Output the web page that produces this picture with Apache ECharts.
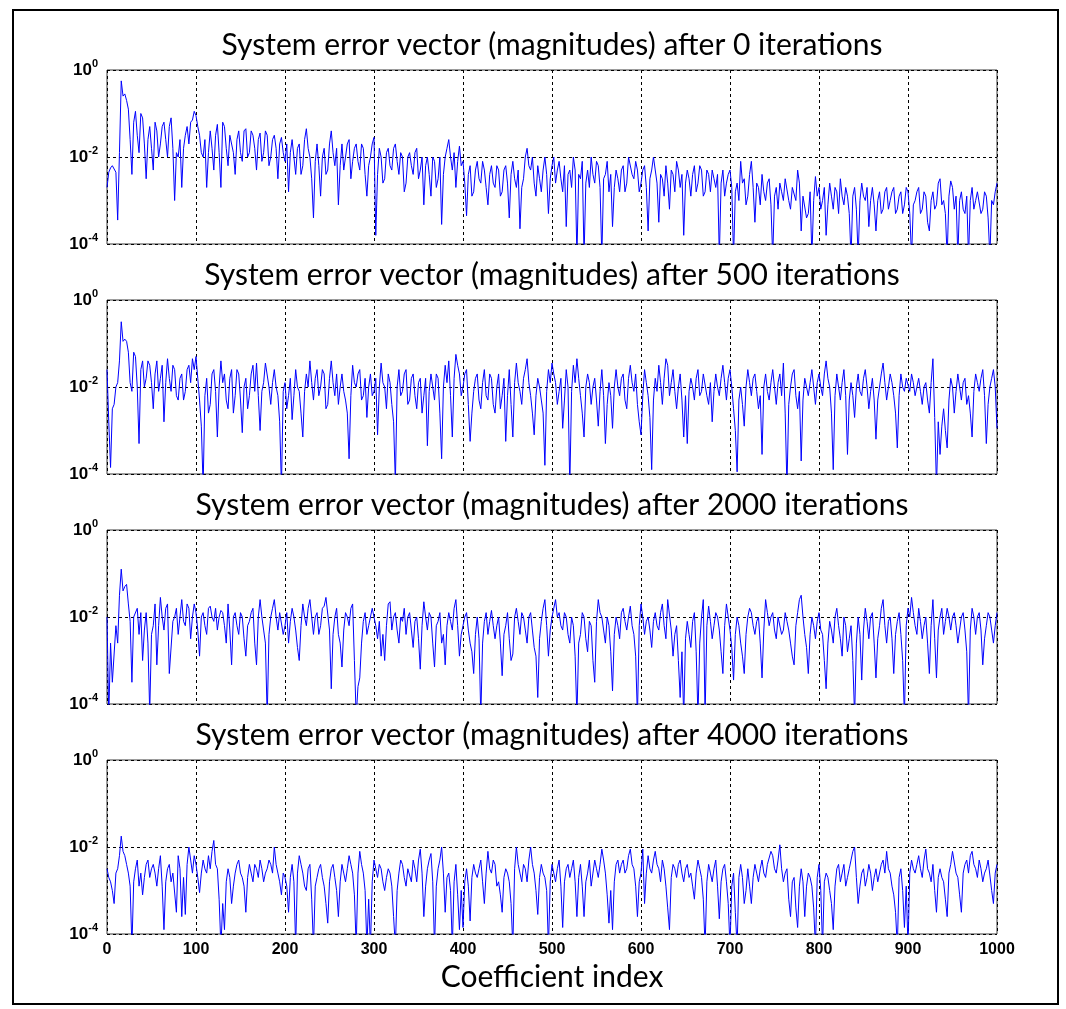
<!DOCTYPE html>
<html>
<head>
<meta charset="utf-8">
<script src="https://cdn.jsdelivr.net/npm/echarts@6/dist/echarts.min.js"></script>
<style>
html,body{margin:0;padding:0;background:#fff;}
#chart{width:1066px;height:1009px;}
</style>
</head>
<body>
<div id="chart"></div>
<script>
// Coefficient index sampled every 2 coefficients (0..1000)
const STEP = 2;
const panelTitles = [
  'System error vector (magnitudes) after 0 iterations',
  'System error vector (magnitudes) after 500 iterations',
  'System error vector (magnitudes) after 2000 iterations',
  'System error vector (magnitudes) after 4000 iterations'
];
const xTickLabels = ['0','100','200','300','400','500','600','700','800','900','1000'];
const yTickExponents = [0, -2, -4];
const xAxisName = 'Coefficient index';

const err0Log = [
-2.7,-2.35,-2.25,-2.2,-2.2,-2.35,-3.45,-1.9,-0.25,-0.6,-0.55,-0.7,-0.9,-1.6,-2.4,-1.2,-0.95,-1.5,-1.9,-1.0,-1.1,-1.7,-2.5,-1.6,-1.3,-1.8,-2.3,-1.2,-1.4,-2.0,-1.7,-1.3,-1.2,-1.6,-2.0,-1.3,-1.1,-1.8,-3.0,-1.9,-2.0,-1.6,-2.7,-1.8,-1.5,-1.3,-1.7,-1.2,-1.15,-0.95,
-1.05,-1.3,-1.5,-1.9,-2.0,-1.6,-2.7,-1.9,-1.4,-1.8,-2.3,-1.5,-1.25,-1.9,-2.7,-1.2,-1.3,-1.8,-2.2,-1.5,-1.5,-1.9,-2.4,-1.6,-1.4,-1.9,-2.1,-1.4,-1.35,-2.0,-1.9,-1.4,-1.5,-1.8,-2.3,-1.6,-1.45,-2.1,-1.9,-1.4,-1.5,-2.2,-2.0,-1.6,-1.5,-1.8,-2.5,-1.7,-1.55,-1.9,
-2.1,-1.7,-2.8,-1.9,-1.6,-2.0,-2.4,-1.8,-1.7,-2.4,-2.2,-1.6,-1.35,-1.8,-2.0,-2.5,-3.4,-2.1,-1.7,-2.2,-2.9,-2.0,-1.8,-2.4,-2.3,-1.7,-1.4,-1.9,-2.2,-1.8,-3.1,-2.2,-1.7,-2.3,-2.0,-1.7,-1.6,-2.5,-2.1,-1.8,-1.7,-2.1,-2.3,-1.7,-1.8,-2.4,-2.9,-2.2,-2.0,-1.7,
-1.55,-3.8,-2.4,-1.8,-2.0,-2.6,-2.5,-1.9,-1.8,-2.2,-2.3,-1.8,-1.7,-2.1,-2.4,-1.9,-2.0,-2.8,-2.6,-2.0,-1.9,-2.2,-2.4,-1.9,-1.8,-2.5,-2.3,-2.0,-3.1,-2.2,-2.0,-2.4,-2.9,-2.0,-2.1,-2.7,-2.5,-2.0,-3.55,-2.4,-2.0,-1.8,-1.6,-2.0,-2.3,-1.9,-2.7,-2.1,-1.75,-2.2,
-2.1,-2.6,-3.35,-2.4,-2.2,-2.9,-2.8,-2.3,-2.1,-2.5,-2.6,-2.1,-2.3,-2.7,-3.1,-2.4,-2.2,-2.6,-2.7,-2.2,-2.3,-2.9,-2.8,-2.3,-2.2,-2.6,-3.4,-2.4,-2.1,-2.5,-2.7,-2.3,-3.65,-2.7,-2.5,-2.0,-1.8,-2.2,-2.3,-2.0,-2.6,-2.9,-2.2,-2.5,-2.8,-2.3,-2.0,-2.4,-3.3,-2.5,
-2.2,-2.0,-2.6,-2.3,-2.1,-2.5,-2.8,-2.2,-3.6,-2.4,-2.3,-2.7,-2.0,-2.3,-4.3,-2.4,-2.5,-2.1,-4.3,-2.6,-2.3,-2.7,-2.0,-2.4,-2.6,-2.1,-2.2,-2.7,-4.3,-2.5,-2.4,-2.1,-2.8,-2.4,-3.6,-2.7,-2.3,-2.5,-2.8,-2.3,-2.2,-2.8,-2.6,-2.0,-2.0,-2.4,-2.5,-2.1,-2.3,-2.8,
-2.6,-2.3,-2.2,-2.7,-3.7,-2.5,-2.3,-2.0,-2.0,-2.6,-3.5,-2.4,-2.5,-2.9,-2.2,-2.6,-3.2,-2.3,-2.4,-2.8,-2.1,-2.3,-2.7,-2.4,-3.8,-2.6,-2.3,-2.5,-2.9,-2.4,-2.2,-2.8,-2.6,-2.2,-2.3,-2.9,-2.8,-2.3,-2.4,-2.8,-2.3,-2.5,-2.7,-2.4,-4.3,-2.6,-2.3,-2.9,-2.6,-2.4,
-2.3,-2.7,-4.3,-2.8,-2.6,-3.0,-2.1,-2.6,-2.5,-3.1,-2.9,-2.4,-2.1,-2.7,-3.5,-2.6,-2.7,-3.1,-2.4,-2.8,-3.0,-2.6,-2.5,-3.1,-4.3,-2.9,-2.7,-3.2,-2.6,-2.8,-3.0,-2.5,-2.5,-3.0,-3.2,-2.7,-2.7,-3.0,-2.3,-2.6,-3.7,-2.9,-2.9,-3.4,-3.3,-2.8,-4.3,-3.0,-2.45,-2.9,
-2.7,-3.2,-3.0,-2.7,-3.8,-3.1,-2.6,-2.9,-3.2,-2.7,-2.8,-3.3,-2.5,-2.9,-3.1,-2.7,-2.9,-3.3,-4.3,-2.9,-2.7,-3.2,-4.3,-3.0,-2.6,-2.9,-3.0,-2.7,-3.6,-3.0,-2.7,-3.1,-3.7,-3.0,-2.8,-3.3,-3.2,-2.8,-2.7,-3.2,-3.0,-2.8,-2.7,-3.3,-3.2,-2.9,-2.8,-3.3,-3.1,-2.7,
-2.8,-3.3,-4.3,-3.1,-3.0,-2.8,-2.7,-3.3,-3.2,-2.8,-2.9,-3.5,-3.7,-3.0,-2.8,-3.2,-3.1,-2.6,-2.5,-3.1,-3.0,-3.3,-4.3,-2.9,-2.55,-2.7,-3.2,-2.9,-4.3,-3.0,-2.8,-3.2,-3.3,-2.9,-4.3,-3.0,-2.7,-3.2,-3.0,-2.8,-2.8,-3.3,-3.2,-2.8,-2.9,-3.4,-4.3,-3.0,-3.1,-2.8,
-2.6
];
const err500Log = [
-1.6,-2.8,-3.85,-2.5,-2.4,-2.0,-1.9,-1.4,-0.5,-0.95,-0.9,-0.95,-1.2,-1.9,-2.1,-1.2,-1.3,-2.0,-3.3,-1.6,-1.4,-2.0,-1.8,-1.4,-1.5,-1.9,-2.5,-1.7,-1.4,-2.1,-1.8,-1.5,-2.8,-1.9,-1.35,-1.8,-2.1,-1.5,-1.6,-2.2,-2.3,-1.8,-1.7,-2.3,-2.1,-1.6,-1.5,-1.9,-1.35,-1.6,
-1.3,-1.8,-2.3,-2.9,-4.3,-2.2,-1.8,-2.6,-2.4,-1.7,-1.6,-2.1,-3.15,-2.0,-1.4,-1.9,-1.7,-2.3,-2.5,-1.8,-1.6,-2.6,-2.2,-1.6,-1.7,-2.3,-3.05,-2.0,-1.8,-2.5,-2.2,-1.7,-1.5,-2.1,-1.45,-2.2,-3.0,-2.1,-1.9,-1.45,-1.45,-2.0,-2.4,-1.9,-1.6,-2.0,-2.2,-2.8,-4.3,-2.1,
-1.9,-2.5,-2.2,-1.8,-2.75,-2.2,-1.6,-2.0,-2.1,-2.6,-3.15,-2.1,-1.7,-2.0,-1.4,-1.9,-2.3,-1.8,-1.6,-2.2,-2.0,-1.6,-1.7,-2.5,-2.4,-1.8,-1.4,-1.9,-2.2,-1.7,-2.4,-2.0,-1.7,-2.1,-2.3,-2.6,-3.65,-2.2,-1.5,-1.9,-2.0,-1.7,-1.6,-2.3,-2.2,-1.8,-2.7,-2.0,-1.7,-2.2,
-2.1,-1.8,-3.1,-2.0,-1.45,-1.9,-2.0,-2.5,-1.7,-1.9,-2.4,-2.8,-4.2,-2.0,-1.6,-2.2,-2.1,-1.7,-1.6,-2.4,-2.3,-1.8,-1.7,-2.2,-2.5,-1.9,-1.8,-2.6,-2.2,-1.8,-3.35,-2.1,-1.7,-2.0,-2.3,-1.7,-1.8,-2.6,-3.65,-2.0,-1.5,-1.9,-1.4,-2.2,-3.15,-1.8,-1.25,-1.5,-1.7,-2.2,
-2.0,-1.7,-1.6,-2.4,-3.25,-2.6,-2.1,-1.8,-1.7,-2.3,-2.5,-1.9,-1.6,-2.2,-2.3,-1.7,-1.8,-2.4,-2.6,-2.0,-1.7,-2.5,-2.2,-1.8,-3.25,-2.2,-1.6,-2.4,-3.15,-1.9,-1.45,-1.9,-2.1,-2.4,-1.8,-1.6,-1.35,-1.9,-2.2,-2.6,-3.1,-2.2,-1.8,-2.0,-2.3,-2.6,-3.8,-2.1,-1.6,-1.9,
-1.45,-1.7,-1.9,-2.4,-2.1,-1.8,-2.95,-2.3,-1.6,-2.0,-4.3,-2.1,-1.5,-1.9,-1.35,-1.8,-2.2,-2.6,-3.15,-2.0,-1.7,-1.9,-2.4,-2.0,-1.8,-2.3,-2.9,-2.1,-1.6,-2.2,-3.3,-2.4,-1.9,-2.2,-2.95,-2.0,-1.6,-2.0,-2.2,-1.8,-1.7,-2.3,-2.5,-1.8,-1.5,-1.9,-2.1,-1.7,-2.4,-2.8,
-3.1,-2.2,-1.6,-1.9,-2.2,-2.7,-3.9,-2.3,-1.8,-2.1,-1.5,-1.9,-2.4,-1.8,-1.35,-1.5,-2.2,-1.9,-1.6,-2.1,-2.5,-2.0,-1.7,-2.3,-3.15,-2.2,-3.3,-2.1,-1.8,-2.0,-2.3,-1.8,-1.6,-2.2,-2.1,-1.7,-1.7,-2.2,-2.4,-1.9,-2.8,-2.1,-1.7,-2.0,-2.2,-1.8,-1.5,-1.9,-2.3,-1.8,
-1.6,-2.0,-2.5,-3.0,-3.95,-2.3,-2.0,-2.4,-2.9,-2.0,-1.6,-1.9,-2.2,-1.8,-1.7,-2.1,-2.5,-2.2,-3.55,-2.0,-1.7,-2.1,-2.3,-1.9,-1.6,-2.0,-2.4,-1.9,-1.7,-2.2,-1.45,-2.6,-4.3,-2.4,-2.0,-1.7,-1.6,-2.2,-2.5,-2.1,-3.7,-2.3,-1.8,-2.0,-2.2,-1.9,-1.6,-2.0,-2.4,-1.9,
-1.7,-2.0,-2.2,-1.7,-1.4,-1.8,-2.0,-2.6,-3.9,-2.2,-1.7,-2.0,-2.3,-1.9,-1.6,-2.2,-3.55,-2.3,-1.9,-2.2,-2.7,-2.0,-1.7,-2.1,-2.2,-1.8,-1.6,-2.0,-2.5,-2.1,-1.8,-2.3,-3.2,-2.3,-2.0,-1.7,-1.45,-1.9,-2.3,-2.0,-1.7,-1.9,-2.2,-2.6,-3.4,-2.2,-1.7,-2.0,-2.1,-1.8,
-1.8,-2.1,-1.7,-1.9,-2.2,-2.0,-1.8,-2.1,-2.4,-2.0,-1.9,-2.3,-2.6,-1.9,-1.35,-2.7,-4.3,-2.8,-3.55,-2.9,-2.5,-3.0,-3.4,-2.3,-1.8,-2.0,-2.6,-2.1,-1.7,-2.0,-2.3,-1.9,-1.8,-2.4,-2.2,-2.6,-3.15,-2.1,-1.7,-1.9,-2.1,-1.8,-1.6,-2.2,-3.3,-2.4,-2.0,-1.8,-1.6,-2.0,
-2.95
];
const err2000Log = [
-2.0,-4.3,-2.6,-3.5,-3.5,-2.2,-2.6,-1.5,-0.9,-1.4,-1.3,-1.25,-1.7,-2.1,-3.5,-2.0,-2.0,-1.8,-2.4,-1.9,-3.0,-2.3,-1.9,-2.6,-4.2,-2.4,-2.2,-1.7,-3.1,-2.2,-1.55,-2.0,-2.3,-1.8,-1.7,-3.3,-3.3,-2.1,-2.0,-1.8,-2.4,-2.0,-1.6,-2.1,-2.2,-1.7,-1.8,-2.5,-2.0,-1.7,
-1.9,-2.3,-2.9,-2.0,-1.9,-2.2,-2.4,-1.8,-1.75,-2.0,-2.1,-1.8,-2.3,-2.0,-1.85,-1.9,-2.2,-2.6,-1.7,-2.3,-3.1,-2.0,-1.9,-2.2,-2.4,-1.9,-2.0,-2.5,-2.9,-2.2,-2.1,-1.9,-1.8,-2.6,-3.1,-2.0,-1.6,-2.0,-2.3,-2.6,-4.3,-2.4,-2.0,-1.8,-1.6,-2.0,-2.3,-1.9,-1.9,-2.4,
-2.2,-1.9,-2.6,-2.1,-1.8,-2.0,-2.3,-2.7,-3.0,-2.2,-1.7,-2.0,-2.2,-1.8,-1.6,-2.0,-2.4,-2.0,-1.9,-2.4,-2.2,-1.8,-1.75,-1.55,-1.55,-2.3,-3.65,-2.4,-2.0,-1.8,-2.4,-2.6,-3.15,-2.3,-1.9,-2.0,-2.2,-1.8,-1.7,-3.0,-4.3,-3.6,-3.4,-2.6,-2.1,-1.9,-2.4,-2.2,-2.0,-1.8,
-1.8,-2.2,-2.5,-2.1,-2.9,-2.4,-3.0,-2.2,-1.7,-1.65,-2.3,-2.0,-1.9,-2.3,-2.6,-2.0,-2.1,-1.8,-2.4,-2.0,-1.9,-2.3,-2.7,-2.1,-2.0,-2.5,-3.2,-2.2,-1.65,-2.0,-2.3,-1.9,-2.0,-2.6,-3.15,-2.2,-2.1,-1.9,-2.6,-2.4,-3.1,-2.2,-1.9,-2.1,-2.3,-1.8,-1.6,-2.2,-2.9,-2.4,
-2.2,-2.0,-1.9,-2.3,-2.6,-2.8,-3.3,-2.4,-2.0,-2.5,-4.3,-2.6,-2.1,-1.9,-2.4,-2.1,-1.85,-2.2,-2.5,-2.2,-2.0,-2.6,-3.35,-2.4,-2.2,-1.9,-2.5,-3.0,-2.85,-2.0,-1.8,-2.1,-2.4,-1.9,-2.0,-2.3,-2.6,-2.0,-1.9,-2.3,-2.7,-2.9,-3.85,-2.5,-2.1,-1.8,-1.6,-2.2,-2.9,-2.3,
-2.0,-1.8,-1.6,-2.0,-1.9,-2.2,-2.3,-1.9,-2.0,-2.4,-2.6,-2.0,-2.2,-2.9,-4.3,-2.6,-2.4,-1.9,-2.0,-2.5,-2.8,-2.1,-2.2,-3.0,-3.5,-2.1,-1.6,-1.9,-2.0,-2.3,-2.6,-2.0,-2.2,-2.8,-3.7,-2.4,-2.0,-2.2,-2.5,-1.9,-1.8,-2.1,-2.3,-2.0,-1.75,-2.2,-2.4,-2.9,-4.3,-2.2,
-1.7,-2.0,-2.4,-2.1,-2.0,-2.3,-2.7,-2.1,-1.9,-2.2,-2.3,-1.9,-1.7,-2.2,-2.5,-1.6,-1.6,-2.3,-2.9,-2.4,-2.2,-3.0,-3.85,-2.8,-4.3,-2.5,-2.1,-2.4,-2.7,-2.1,-1.9,-2.8,-4.3,-2.6,-2.0,-1.6,-4.3,-2.2,-1.75,-2.1,-2.5,-2.2,-1.9,-2.0,-2.3,-2.8,-3.3,-2.2,-1.7,-2.0,
-2.3,-2.7,-3.45,-2.4,-2.0,-2.2,-2.6,-2.9,-3.3,-2.4,-2.0,-1.8,-1.9,-2.2,-2.4,-2.1,-2.0,-2.6,-3.4,-2.3,-1.6,-1.9,-2.2,-2.0,-1.9,-2.3,-2.5,-2.0,-2.0,-2.4,-2.3,-1.9,-2.1,-2.3,-2.6,-2.9,-3.1,-2.2,-1.9,-1.6,-1.5,-2.0,-2.4,-2.7,-3.3,-2.4,-2.0,-2.2,-2.5,-2.1,
-1.9,-2.3,-2.4,-3.0,-3.65,-2.6,-2.1,-2.3,-2.6,-2.0,-1.8,-2.2,-2.5,-2.9,-2.0,-2.2,-2.8,-2.5,-2.2,-3.0,-4.3,-2.6,-2.0,-2.4,-3.45,-2.3,-1.8,-2.1,-2.5,-2.0,-1.9,-2.6,-3.4,-2.5,-2.2,-1.8,-1.6,-2.2,-2.6,-2.1,-2.0,-2.5,-3.3,-2.4,-2.1,-1.9,-2.4,-3.0,-4.3,-2.2,
-1.8,-2.0,-1.55,-1.9,-2.2,-2.4,-1.8,-2.1,-2.5,-2.2,-2.0,-2.6,-3.3,-2.2,-1.6,-2.5,-3.4,-2.3,-2.0,-1.8,-2.4,-2.1,-1.8,-2.0,-2.3,-2.0,-1.9,-2.2,-2.6,-2.3,-2.0,-1.9,-2.3,-2.8,-4.3,-2.3,-1.8,-2.0,-2.4,-2.0,-1.9,-2.3,-3.1,-2.5,-2.2,-1.9,-2.0,-2.3,-2.6,-2.2,
-1.9
];
const err4000Log = [
-2.5,-2.7,-2.8,-3.0,-3.3,-2.6,-2.5,-2.2,-1.75,-2.1,-2.2,-2.4,-2.6,-2.9,-4.3,-2.8,-2.5,-2.3,-2.9,-2.6,-3.1,-2.7,-2.4,-2.3,-2.7,-2.5,-2.4,-2.6,-2.9,-2.5,-2.2,-2.9,-3.9,-2.8,-2.5,-2.4,-2.8,-2.6,-2.6,-3.5,-2.2,-2.5,-3.6,-2.7,-3.55,-2.4,-2.0,-2.3,-2.6,-2.2,
-2.4,-2.7,-3.05,-2.6,-2.3,-2.5,-2.6,-2.2,-2.5,-2.1,-1.85,-2.4,-2.5,-3.2,-4.3,-3.3,-3.9,-2.8,-2.5,-2.7,-3.3,-2.9,-2.6,-2.4,-2.3,-2.6,-2.7,-2.9,-3.5,-2.7,-2.4,-2.6,-2.8,-2.4,-2.5,-2.7,-2.3,-2.5,-2.8,-2.6,-2.5,-2.3,-2.4,-2.6,-2.0,-2.4,-2.6,-2.8,-3.1,-2.6,
-2.7,-2.9,-3.5,-2.7,-2.4,-2.8,-4.3,-2.6,-2.2,-2.4,-2.6,-2.9,-3.0,-2.5,-2.4,-3.2,-4.3,-2.9,-2.7,-2.5,-2.4,-2.7,-2.9,-3.3,-3.75,-2.8,-2.5,-2.4,-2.7,-3.0,-3.6,-2.8,-2.4,-2.6,-2.8,-2.5,-2.2,-2.4,-2.6,-3.1,-4.3,-2.6,-2.1,-2.4,-2.6,-3.0,-4.3,-3.2,-4.3,-2.8,
-2.3,-2.5,-2.7,-2.4,-2.5,-2.8,-3.0,-2.7,-2.5,-2.6,-2.9,-3.6,-4.3,-3.0,-2.6,-2.3,-2.4,-2.7,-2.9,-2.5,-2.5,-2.8,-2.3,-2.5,-2.8,-2.3,-2.05,-2.6,-3.6,-2.9,-2.5,-2.3,-2.15,-2.8,-4.3,-2.9,-2.5,-2.3,-2.0,-2.6,-3.5,-2.7,-2.6,-3.0,-4.3,-2.8,-2.4,-3.1,-3.9,-3.0,
-3.85,-2.8,-2.5,-2.9,-3.7,-2.7,-2.4,-2.6,-2.7,-2.5,-2.3,-2.8,-3.3,-2.6,-2.1,-2.5,-2.6,-2.3,-2.4,-2.9,-2.8,-3.1,-3.5,-2.7,-2.5,-2.6,-2.8,-3.3,-4.3,-2.5,-2.0,-2.4,-2.6,-2.8,-2.4,-2.5,-2.8,-2.3,-2.0,-2.4,-2.6,-3.0,-3.55,-2.7,-2.4,-2.6,-2.7,-3.0,-4.3,-2.8,
-2.4,-2.6,-2.8,-2.5,-2.3,-2.9,-3.85,-2.8,-2.5,-2.4,-2.7,-2.5,-2.3,-2.8,-3.6,-2.7,-2.4,-2.9,-3.6,-2.8,-2.6,-2.3,-2.9,-2.6,-2.3,-2.5,-2.7,-2.4,-2.05,-2.3,-2.6,-3.1,-3.75,-3.0,-3.9,-2.8,-2.4,-2.3,-2.6,-2.4,-2.3,-2.6,-2.5,-2.2,-2.05,-2.4,-2.5,-2.9,-3.6,-2.8,
-2.6,-2.05,-3.3,-2.6,-2.2,-2.5,-2.6,-2.3,-2.1,-2.4,-2.5,-2.8,-2.3,-2.5,-2.9,-3.4,-3.9,-2.7,-2.4,-2.5,-2.7,-2.4,-2.3,-2.6,-2.8,-2.5,-2.4,-2.7,-2.6,-2.9,-3.2,-2.6,-2.3,-2.5,-2.7,-3.2,-4.3,-2.8,-2.4,-2.6,-2.8,-2.5,-2.3,-2.9,-3.65,-2.8,-2.5,-2.4,-2.8,-3.3,
-4.3,-2.9,-2.6,-3.5,-4.3,-2.7,-2.4,-2.7,-3.3,-3.0,-2.5,-2.9,-3.3,-2.7,-2.4,-2.6,-2.8,-2.5,-2.3,-2.6,-2.7,-2.4,-2.4,-2.1,-2.2,-2.5,-2.6,-2.3,-1.95,-2.5,-2.8,-2.6,-2.5,-3.2,-3.6,-2.8,-2.7,-3.4,-3.85,-2.9,-2.5,-2.8,-3.6,-2.9,-2.6,-2.7,-2.9,-3.4,-4.3,-2.7,
-2.4,-3.0,-4.3,-2.8,-2.6,-2.7,-3.0,-3.3,-3.9,-2.9,-2.5,-2.4,-2.8,-2.6,-2.4,-2.9,-2.7,-2.5,-2.3,-2.1,-2.0,-2.7,-3.3,-2.9,-2.6,-2.5,-2.9,-2.7,-2.4,-2.6,-3.0,-2.7,-2.5,-2.8,-2.8,-2.4,-2.3,-2.6,-2.1,-2.5,-2.6,-2.9,-3.1,-3.5,-4.3,-2.7,-2.5,-3.0,-3.85,-2.9,
-4.3,-2.6,-2.3,-2.5,-2.6,-2.4,-2.2,-2.5,-2.7,-2.3,-2.05,-2.5,-2.6,-2.8,-2.4,-3.0,-3.5,-2.7,-2.5,-2.7,-2.8,-3.2,-3.6,-2.6,-2.4,-2.1,-2.1,-2.6,-2.7,-3.1,-3.5,-2.6,-2.4,-2.3,-2.6,-2.2,-2.1,-2.4,-2.5,-2.7,-2.3,-2.5,-2.8,-2.6,-2.5,-2.3,-2.3,-3.0,-3.3,-2.6,
-2.4
];
const panelsLog = [err0Log, err500Log, err2000Log, err4000Log];

// ---- layout ----
const GRID_LEFT = 107, GRID_RIGHT = 69, GRID_H = 174;
const gridTops = [70, 300, 530, 760];
const titleFont = 'Lato, "Open Sans", sans-serif';
const tickFont = '"Liberation Sans", Arial, sans-serif';

const grids = [], xAxes = [], yAxes = [], series = [], graphics = [];
panelsLog.forEach((arr, k) => {
  grids.push({left: GRID_LEFT, right: GRID_RIGHT, top: gridTops[k], height: GRID_H,
    show: true, borderColor: '#3a3a3a', borderWidth: 1, backgroundColor: '#fff', containLabel: false});
  xAxes.push({
    type: 'value', gridIndex: k, min: 0, max: 1000, interval: 100,
    axisLine: {show: false}, axisTick: {show: false},
    axisLabel: {show: k === 3, color: '#000', fontFamily: tickFont, fontSize: 16, fontWeight: 'bold', margin: 8,
      formatter: v => xTickLabels[Math.round(v / 100)]},
    splitLine: {show: true, lineStyle: {color: '#000', width: 1, type: [3, 3]}},
    name: k === 3 ? xAxisName : '', nameLocation: 'middle', nameGap: 28,
    nameTextStyle: {color: '#000', fontFamily: titleFont, fontSize: 30}
  });
  yAxes.push({
    type: 'log', gridIndex: k, logBase: 100, min: 1e-4, max: 1,
    axisLine: {show: false}, axisTick: {show: false},
    axisLabel: {color: '#000', margin: 9,
      formatter: v => {
        const e = Math.round(Math.log10(v));
        return yTickExponents.indexOf(e) >= 0 ? '{b|10}{s|' + e + '}' : '';
      },
      rich: {
        b: {fontFamily: tickFont, fontSize: 17, fontWeight: 'bold', color: '#000'},
        s: {fontFamily: tickFont, fontSize: 11, fontWeight: 'bold', color: '#000', padding: [0, 0, 13, 0]}
      }
    },
    splitLine: {show: true, lineStyle: {color: '#000', width: 1, type: [3, 3]}},
    minorTick: {show: false}, minorSplitLine: {show: false}
  });
  series.push({
    type: 'line', xAxisIndex: k, yAxisIndex: k, showSymbol: false, symbol: 'none',
    clip: true, silent: true,
    lineStyle: {color: '#0000ff', width: 1},
    data: arr.map((lv, i) => [i * STEP, Math.pow(10, lv)])
  });
  graphics.push({type: 'text', x: 552, y: gridTops[k] - 25,
    style: {text: panelTitles[k], fill: '#000', font: '30px ' + titleFont, textAlign: 'center', textVerticalAlign: 'middle'}});
});
graphics.push({type: 'rect', shape: {x: 13, y: 10, width: 1045, height: 994},
  style: {fill: null, stroke: '#000', lineWidth: 2}, z: -1});

const chart = echarts.init(document.getElementById('chart'), null, {renderer: 'canvas'});
chart.setOption({
  animation: false,
  backgroundColor: '#fff',
  grid: grids, xAxis: xAxes, yAxis: yAxes, series: series,
  graphic: graphics
});
</script>
</body>
</html>
